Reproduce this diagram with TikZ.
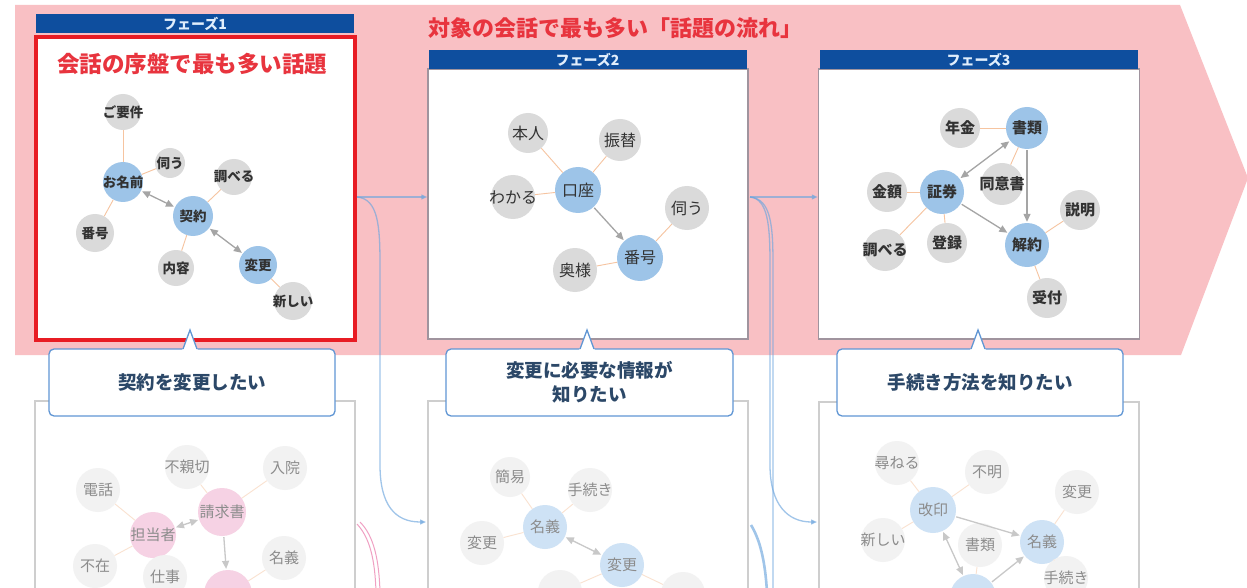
\documentclass[tikz,border=0pt]{standalone}
\usepackage{fontspec}
\setmainfont{Noto Sans CJK JP}
\usetikzlibrary{arrows.meta}

\definecolor{bgpink}{RGB}{249,192,196}
\definecolor{barblue}{RGB}{14,78,158}
\definecolor{bartext}{RGB}{225,238,252}
\definecolor{redline}{RGB}{232,28,36}
\definecolor{redtext}{RGB}{232,52,62}
\definecolor{panelgray}{RGB}{160,148,158}
\definecolor{lowgray}{RGB}{206,206,206}
\definecolor{nodegray}{RGB}{218,218,218}
\definecolor{nodeblue}{RGB}{157,196,232}
\definecolor{nodetext}{RGB}{50,50,50}
\definecolor{tiecol}{RGB}{246,196,160}
\definecolor{flowcol}{RGB}{165,165,165}
\definecolor{callblue}{RGB}{96,150,212}
\definecolor{calltext}{RGB}{44,72,104}
\definecolor{linkblue}{RGB}{110,166,222}
\definecolor{linkpink}{RGB}{240,160,195}
\definecolor{fadegray}{RGB}{242,242,242}
\definecolor{fadeblue}{RGB}{206,226,245}
\definecolor{fadepink}{RGB}{246,210,228}
\definecolor{fadetext}{RGB}{140,140,140}
\definecolor{fadetie}{RGB}{250,226,208}
\definecolor{fadeflow}{RGB}{200,200,200}

\newcommand{\tx}[1]{\makebox[0pt]{#1}}

\begin{document}
\begin{tikzpicture}[x=1pt,y=-1pt,
  gnode/.style={circle,fill=nodegray,text=nodetext,inner sep=0pt,minimum size=#1},
  bnode/.style={circle,fill=nodeblue,text=nodetext,inner sep=0pt,minimum size=#1},
  fgnode/.style={circle,fill=fadegray,text=fadetext,inner sep=0pt,minimum size=#1},
  fbnode/.style={circle,fill=fadeblue,text=fadetext,inner sep=0pt,minimum size=#1},
  fpnode/.style={circle,fill=fadepink,text=fadetext,inner sep=0pt,minimum size=#1},
  tie/.style={draw=tiecol,line width=0.9pt},
  ftie/.style={draw=fadetie,line width=0.9pt},
  flow/.style={draw=flowcol,line width=1.3pt,shorten <=1pt,shorten >=1pt,-{Triangle[length=8pt,width=7pt]}},
  flowboth/.style={flow,{Triangle[length=8pt,width=7pt]}-{Triangle[length=8pt,width=7pt]}},
  fflow/.style={flow,draw=fadeflow},
  fflowboth/.style={flowboth,draw=fadeflow},
  phasebar/.style={fill=barblue,text=bartext,inner sep=0pt,minimum width=318,minimum height=19,
    font=\fontsize{14}{14}\selectfont\bfseries},
  toppanel/.style={draw=panelgray,line width=1.5pt,fill=white,inner sep=0pt,minimum width=320,minimum height=270},
  lowpanel/.style={draw=lowgray,line width=1.2pt,fill=white,inner sep=0pt,minimum width=320,minimum height=220},
  callout/.style={draw=callblue,line width=1.3pt,fill=white,rounded corners=5pt,inner sep=0pt,
    minimum width=286,minimum height=67,align=center,text=calltext,
    font=\fontsize{18.5}{24}\selectfont\bfseries},
  link/.style={draw=linkblue,opacity=0.65,line width=1.3pt},
  linkarrow/.style={link,-{Triangle[length=6pt,width=5pt]}}]

\useasboundingbox (0,0) rectangle (1247,588);
\clip (0,0) rectangle (1247,588);
\fill[white] (0,0) rectangle (1247,588);

% pink flow arrow behind the three phases
\fill[bgpink] (15,5) -- (1180,5) -- (1248,178) -- (1181,355) -- (15,355) -- cycle;

% lower (faded) panels
\node[lowpanel] (low1) at (195,511) {};
\node[lowpanel] (low2) at (588,511) {};
\node[lowpanel] (low3) at (979,512) {};

\begin{scope}[every node/.append style={font=\fontsize{15}{15}\selectfont}]
  \node[fgnode=44] (q1denwa) at (98,490) {\tx{電話}};
  \node[fgnode=44] (q1fushinsetsu) at (187,467) {\tx{不親切}};
  \node[fgnode=44] (q1nyuin) at (285,468) {\tx{入院}};
  \node[fpnode=48] (q1seikyu) at (222,512) {\tx{請求書}};
  \node[fpnode=46] (q1tanto) at (153,535) {\tx{担当者}};
  \node[fgnode=44] (q1fuzai) at (95,566) {\tx{不在}};
  \node[fgnode=44] (q1meigi) at (284,558) {\tx{名義}};
  \node[fgnode=44] (q1shigoto) at (165,577) {\tx{仕事}};
  \node[fpnode=48] (q1next) at (228,594) {};
  \draw[ftie] (q1denwa) -- (q1tanto);
  \draw[ftie] (q1fushinsetsu) -- (q1seikyu);
  \draw[ftie] (q1nyuin) -- (q1seikyu);
  \draw[ftie] (q1tanto) -- (q1fuzai);
  \draw[ftie] (q1meigi) -- (q1next);
  \draw[fflowboth] (q1seikyu) -- (q1tanto);
  \draw[fflow] (q1seikyu) -- (q1next);

  \node[fgnode=40] (q2kani) at (510,477) {\tx{簡易}};
  \node[fgnode=44] (q2tetsuzuki) at (590,490) {\tx{手続き}};
  \node[fbnode=44] (q2meigi) at (545,527) {\tx{名義}};
  \node[fgnode=44] (q2henko) at (482,543) {\tx{変更}};
  \node[fbnode=44] (q2henkob) at (622,565) {\tx{変更}};
  \node[fgnode=44] (q2left) at (560,592) {};
  \node[fgnode=44] (q2right) at (683,594) {};
  \draw[ftie] (q2kani) -- (q2meigi);
  \draw[ftie] (q2tetsuzuki) -- (q2meigi);
  \draw[ftie] (q2henko) -- (q2meigi);
  \draw[ftie] (q2henkob) -- (q2left);
  \draw[ftie] (q2henkob) -- (q2right);
  \draw[fflowboth] (q2meigi) -- (q2henkob);

  \node[fgnode=44] (q3tazuneru) at (897,463) {\tx{尋ねる}};
  \node[fgnode=44] (q3fumei) at (987,472) {\tx{不明}};
  \node[fgnode=44] (q3henko) at (1077,492) {\tx{変更}};
  \node[fbnode=46] (q3kaiin) at (933,510) {\tx{改印}};
  \node[fgnode=44] (q3atarashii) at (883,540) {\tx{新しい}};
  \node[fgnode=44] (q3shorui) at (980,545) {\tx{書類}};
  \node[fbnode=44] (q3meigi) at (1042,542) {\tx{名義}};
  \node[fbnode=46] (q3next) at (973,597) {};
  \node[fgnode=44] (q3tetsuzuki) at (1066,578) {\tx{手続き}};
  \draw[ftie] (q3tazuneru) -- (q3kaiin);
  \draw[ftie] (q3fumei) -- (q3kaiin);
  \draw[ftie] (q3atarashii) -- (q3kaiin);
  \draw[ftie] (q3meigi) -- (q3henko);
  \draw[ftie] (q3shorui) -- (q3next);
  \draw[ftie] (q3meigi) -- (q3tetsuzuki);
  \draw[fflow] (q3kaiin) -- (q3meigi);
  \draw[fflowboth] (q3kaiin) -- (q3next);
  \draw[fflow] (q3next) -- (q3meigi);
\end{scope}

% upper panels
\node[toppanel,draw=redline,line width=4pt,minimum width=319,minimum height=302] (box1) at (195,188.5) {};
\node[toppanel] (box2) at (588,204) {};
\node[toppanel,minimum width=321] (box3) at (979,204) {};
\node[phasebar] (bar1) at (195,23.5) {フェーズ1};
\node[phasebar] (bar2) at (587.5,59.5) {フェーズ2};
\node[phasebar] (bar3) at (978.5,59.5) {フェーズ3};

\node[text=redtext,font=\fontsize{22}{22}\selectfont\bfseries] (title) at (615,28) {対象の会話で最も多い「話題の流れ」};
\node[text=redtext,font=\fontsize{22.5}{22.5}\selectfont\bfseries] (sub1) at (192,64) {会話の序盤で最も多い話題};

\begin{scope}[every node/.append style={font=\fontsize{13.5}{13.5}\selectfont\bfseries}]
  \node[gnode=36] (p1yoken) at (123,112) {\tx{ご要件}};
  \node[gnode=30] (p1ukagau) at (170,163) {\tx{伺う}};
  \node[bnode=40] (p1namae) at (123,182) {\tx{お名前}};
  \node[gnode=36] (p1shiraberu) at (234,177) {\tx{調べる}};
  \node[bnode=40] (p1keiyaku) at (193,216) {\tx{契約}};
  \node[gnode=38] (p1bango) at (95,233) {\tx{番号}};
  \node[gnode=36] (p1naiyo) at (176,268) {\tx{内容}};
  \node[bnode=38] (p1henko) at (258,265) {\tx{変更}};
  \node[gnode=38] (p1atarashii) at (293,301) {\tx{新しい}};
  \draw[tie] (p1yoken) -- (p1namae);
  \draw[tie] (p1ukagau) -- (p1namae);
  \draw[tie] (p1namae) -- (p1bango);
  \draw[tie] (p1shiraberu) -- (p1keiyaku);
  \draw[tie] (p1keiyaku) -- (p1naiyo);
  \draw[tie] (p1henko) -- (p1atarashii);
  \draw[flowboth] (p1namae) -- (p1keiyaku);
  \draw[flowboth] (p1keiyaku) -- (p1henko);
\end{scope}

\begin{scope}[every node/.append style={font=\fontsize{16}{16}\selectfont}]
  \node[gnode=40] (p2honnin) at (528,133) {\tx{本人}};
  \node[gnode=42] (p2furikae) at (620,140) {\tx{振替}};
  \node[bnode=46] (p2koza) at (578,190) {\tx{口座}};
  \node[gnode=44] (p2wakaru) at (513,197) {\tx{わかる}};
  \node[gnode=44] (p2ukagau) at (687,208) {\tx{伺う}};
  \node[bnode=46] (p2bango) at (640,258) {\tx{番号}};
  \node[gnode=44] (p2okusama) at (575,270) {\tx{奥様}};
  \draw[tie] (p2honnin) -- (p2koza);
  \draw[tie] (p2furikae) -- (p2koza);
  \draw[tie] (p2wakaru) -- (p2koza);
  \draw[tie] (p2ukagau) -- (p2bango);
  \draw[tie] (p2okusama) -- (p2bango);
  \draw[flow] (p2koza) -- (p2bango);
\end{scope}

\begin{scope}[every node/.append style={font=\fontsize{15}{15}\selectfont\bfseries}]
  \node[gnode=40] (p3nenkin) at (960,128) {\tx{年金}};
  \node[bnode=42] (p3shorui) at (1027,128) {\tx{書類}};
  \node[gnode=42] (p3doisho) at (1002,184) {\tx{同意書}};
  \node[gnode=40] (p3kingaku) at (887,192) {\tx{金額}};
  \node[bnode=44] (p3shoken) at (942,192) {\tx{証券}};
  \node[gnode=40] (p3setsumei) at (1080,210) {\tx{説明}};
  \node[gnode=42] (p3shiraberu) at (885,250) {\tx{調べる}};
  \node[gnode=40] (p3toroku) at (947,243) {\tx{登録}};
  \node[bnode=44] (p3kaiyaku) at (1027,245) {\tx{解約}};
  \node[gnode=40] (p3uketsuke) at (1047,298) {\tx{受付}};
  \draw[tie] (p3nenkin) -- (p3shorui);
  \draw[tie] (p3shorui) -- (p3doisho);
  \draw[tie] (p3kingaku) -- (p3shoken);
  \draw[tie] (p3shoken) -- (p3shiraberu);
  \draw[tie] (p3shoken) -- (p3toroku);
  \draw[tie] (p3kaiyaku) -- (p3setsumei);
  \draw[tie] (p3kaiyaku) -- (p3uketsuke);
  \draw[flowboth] (p3shorui) -- (p3shoken);
  \draw[flow] (p3shorui) -- (p3kaiyaku);
  \draw[flow] (p3shoken) -- (p3kaiyaku);
\end{scope}

% links between the phases
\coordinate (out1) at (357,197);
\coordinate (out2) at (750,197);
\coordinate (in1) at (426,522);
\coordinate (in2) at (817,522);
\draw[linkarrow] (out1) -- (out1 -| box2.west);
\draw[linkarrow] (out2) -- (out2 -| box3.west);
\draw[linkarrow] (out1) .. controls (378,199) and (380,225) .. (380,265) -- (380,465)
  .. controls (380,505) and (395,522) .. (in1);
\draw[linkarrow] (out2) .. controls (768,199) and (770,225) .. (770,265) -- (770,465)
  .. controls (770,505) and (788,522) .. (in2);
\draw[link] (out2) .. controls (771,199) and (773,225) .. (773,265) -- (773,592);
\draw[link,line width=2.6pt] (751,525) .. controls (760,540) and (765,560) .. (767,592);
\draw[linkpink,line width=1pt] (357,524) .. controls (370,538) and (375,560) .. (376,592);
\draw[linkpink,line width=1pt] (360,522) .. controls (374,536) and (379,560) .. (380,592);

% callouts
\node[callout] (say1) at (192,382.5) {契約を変更したい};
\node[callout,minimum width=287] (say2) at (589.5,382.5) {変更に必要な情報が\\知りたい};
\node[callout] (say3) at (980,382.5) {手続き方法を知りたい};
\foreach \px in {190,587,978} {
  \coordinate (tip) at (\px,330);
  \fill[white] (\px-8,350.6) -- (tip) -- (\px+8,350.6) -- cycle;
  \draw[callblue,line width=1.3pt] (\px-7,349) -- (tip) -- (\px+7,349);
}
\end{tikzpicture}
\end{document}
